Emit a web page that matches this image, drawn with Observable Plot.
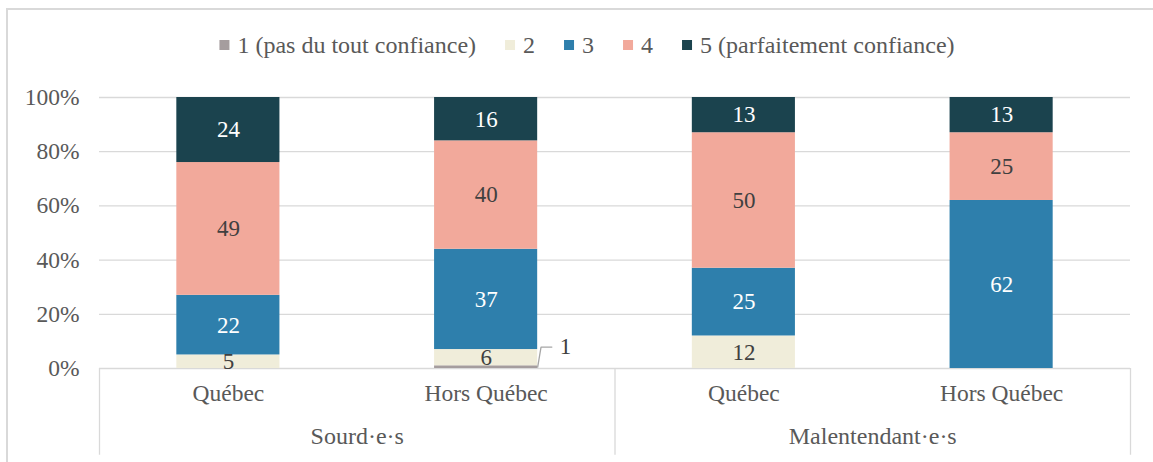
<!DOCTYPE html>
<html>
<head>
<meta charset="utf-8">
<script src="https://cdn.jsdelivr.net/npm/d3@7"></script>
<script src="https://cdn.jsdelivr.net/npm/@observablehq/plot@0.6"></script>
<style>
  body { margin: 0; background: #fff; }
  #wrap { position: relative; width: 1153px; height: 462px; overflow: hidden; background: #fff; }
  #frame { position: absolute; left: 6px; top: 8px; width: 1200px; height: 500px;
           border-left: 2px solid #d9d9d9; border-top: 2px solid #d9d9d9; pointer-events: none; }
  #keybox { height: 90px; }
  #keybox svg { display: block; }
  #chart { position: relative; }
</style>
</head>
<body>
<div id="wrap">
  <div id="frame"></div>
  <div id="keybox"></div>
  <div id="chart"></div>
</div>
<script>
// ---- data ----
const levels = ["1 (pas du tout confiance)", "2", "3", "4", "5 (parfaitement confiance)"];
const colors = ["#a59d9e", "#f0edda", "#2e7fac", "#f2a99b", "#1b434e"];
const groups = ["Sourd·e·s", "Malentendant·e·s"];
const subs = ["Québec", "Hors Québec", "Québec", "Hors Québec"];
const barGroup = [0, 0, 1, 1];
const v1 = [0, 1, 0, 0];
const v2 = [5, 6, 12, 0];
const v3 = [22, 37, 25, 62];
const v4 = [49, 40, 50, 25];
const v5 = [24, 16, 13, 13];
const yTicks = [0, 20, 40, 60, 80, 100];
const darkText = ["2", "4"]; // levels with dark labels

const series = [v1, v2, v3, v4, v5];
const rows = [];
subs.forEach((s, i) => {
  let acc = 0;
  series.forEach((vals, k) => {
    rows.push({i, k, level: levels[k], value: vals[i], y1: acc, y2: acc + vals[i]});
    acc += vals[i];
  });
});
const half = 0.2; // half bar width in band units
const bars = rows.filter(d => d.value > 0);
const inside = bars.filter(d => d.k !== 0);
const callouts = bars.filter(d => d.k === 0);

const font = '"Liberation Serif", "Times New Roman", serif';

// ---- key (svg) ----
const ksvg = d3.select("#keybox").append("svg").attr("width", 1153).attr("height", 90)
  .style("font-family", font).style("font-size", "24px");
const items = ksvg.selectAll("g").data(levels).join("g");
const swGap = 8, gap = 29;
items.append("rect").attr("width", 10).attr("height", 10).attr("y", 40).attr("fill", (d, k) => colors[k]);
items.append("text").attr("x", 10 + swGap).attr("y", 45).attr("dy", "0.35em").attr("fill", "#595959")
  .style("font-family", font).style("font-size", "24px").text(d => d);
const widths = [];
items.each(function () { widths.push(10 + swGap + this.querySelector("text").getComputedTextLength()); });
const total = d3.sum(widths) + gap * (widths.length - 1);
let xpos = 587 - total / 2;
items.attr("transform", (d, k) => { const t = `translate(${xpos},0)`; xpos += widths[k] + gap; return t; });

// ---- chart ----
const grid = "#d9d9d9";
const plot = Plot.plot({
  width: 1153,
  height: 372,
  marginTop: 7,
  marginBottom: 94,
  marginLeft: 99,
  marginRight: 23,
  style: {fontFamily: font, fontSize: "23.5px", color: "#595959", background: "transparent", overflow: "visible"},
  x: {domain: [-0.5, 3.5], ticks: [0, 1, 2, 3], tickFormat: i => subs[i], tickSize: 0, tickPadding: 16, label: null},
  y: {domain: [0, 100], ticks: yTicks, tickFormat: d => d + "%", tickSize: 0, tickPadding: 20, label: null},
  color: {domain: levels, range: colors},
  marks: [
    Plot.ruleY(yTicks, {stroke: grid, strokeWidth: 1.3}),
    Plot.ruleX([-0.5, 1.5, 3.5], {y1: 0, y2: -32, stroke: grid, strokeWidth: 1.3}),
    Plot.rect(bars, {x1: d => d.i - half, x2: d => d.i + half, y1: "y1", y2: "y2", fill: "level"}),
    Plot.text(inside, {x: "i", y: d => (d.y1 + d.y2) / 2, text: "value", fontSize: 23,
      fill: d => darkText.includes(d.level) ? "#404040" : "#ffffff"}),
    Plot.line(callouts.flatMap(d => [
      {i: d.i, x: d.i + half, y: (d.y1 + d.y2) / 2},
      {i: d.i, x: d.i + half + 0.013, y: 7.9},
      {i: d.i, x: d.i + half + 0.055, y: 7.9}
    ]), {x: "x", y: "y", z: "i", stroke: "#a6a6a6", strokeWidth: 1.3}),
    Plot.text(callouts, {x: d => d.i + half + 0.108, y: 7.9, text: "value", fontSize: 23, fill: "#404040"}),
    Plot.text(groups, {x: (d, j) => barGroup.indexOf(j) + 0.5, text: d => d, frameAnchor: "bottom", dy: 75, fontSize: 24, fill: "#595959"})
  ]
});
document.getElementById("chart").appendChild(plot);
</script>
</body>
</html>
